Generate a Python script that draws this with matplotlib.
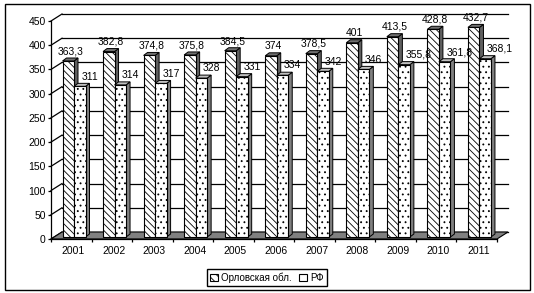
import matplotlib.pyplot as plt
from matplotlib.patches import Polygon, Rectangle, Patch

# Datos
years = ['2001', '2002', '2003', '2004', '2005', '2006', '2007', '2008', '2009', '2010', '2011']
orel = [363.3, 382.8, 374.8, 375.8, 384.5, 374, 378.5, 401, 413.5, 428.8, 432.7]
rf = [311, 314, 317, 328, 331, 334, 342, 346, 355.8, 361.8, 368.1]
orel_labels = ['363,3', '382,8', '374,8', '375,8', '384,5', '374', '378,5', '401', '413,5', '428,8', '432,7']
rf_labels = ['311', '314', '317', '328', '331', '334', '342', '346', '355,8', '361,8', '368,1']
yticks = [0, 50, 100, 150, 200, 250, 300, 350, 400, 450]

plt.rcParams['font.family'] = ['Liberation Sans', 'DejaVu Sans']
plt.rcParams['hatch.linewidth'] = 0.6

W, H = 534, 293
fig = plt.figure(figsize=(W / 100, H / 100), dpi=100)
ax = fig.add_axes([51 / W, 54 / H, 446 / W, 218 / H])
n = len(years)
ax.set_xlim(-0.5, n - 0.5)
ax.set_ylim(0, 450)

# pixeles -> unidades de datos
PX = 446 / n
PY = 218 / 450
wdx, wdy = 11 / PX, 7 / PY      # profundidad de la pared
bdx, bdy = 4 / PX, 3 / PY       # profundidad de las barras
yoff = 2 / PY
w = 11.5 / PX

# pared del fondo y lineas de la pared izquierda
for v in yticks:
    ax.plot([-0.5 + wdx, n - 0.5 + wdx], [v + wdy, v + wdy], color='black', lw=0.9, zorder=1, clip_on=False)
    ax.plot([-0.5, -0.5 + wdx], [v, v + wdy], color='black', lw=0.9, zorder=1, clip_on=False)

# piso gris
ax.add_patch(Polygon([(-0.5, 0), (n - 0.5, 0), (n - 0.5 + wdx, wdy), (-0.5 + wdx, wdy)],
                     closed=True, facecolor='#808080', edgecolor='black', lw=0.8, zorder=1.5, clip_on=False))


def faces(xl, top, side_col, top_col, z):
    xr = xl + w
    ax.add_patch(Polygon([(xr, yoff), (xr, top), (xr + bdx, top + bdy), (xr + bdx, yoff + bdy)],
                         closed=True, facecolor=side_col, edgecolor='black', lw=0.7, zorder=z, clip_on=False))
    ax.add_patch(Polygon([(xl, top), (xr, top), (xr + bdx, top + bdy), (xl + bdx, top + bdy)],
                         closed=True, facecolor=top_col, edgecolor='black', lw=0.7, zorder=z, clip_on=False))


x1 = [i - 0.5 + 11.5 / PX + w / 2 for i in range(n)]
x2 = [x + w for x in x1]

ax.bar(x1, orel, width=w, bottom=yoff, color='white', edgecolor='black', lw=0.8,
       hatch='\\\\\\\\\\', zorder=3, clip_on=False)
ax.bar(x2, rf, width=w, bottom=yoff, color='white', edgecolor='black', lw=0.8,
       hatch='...', zorder=5, clip_on=False)

for i in range(n):
    faces(x1[i] - w / 2, orel[i] + yoff, '#606060', '#707070', 2.5)
    faces(x2[i] - w / 2, rf[i] + yoff, '#808080', '#c0c0c0', 4.5)
    ax.annotate(orel_labels[i], (x1[i] + 2 / PX, orel[i] + yoff), xytext=(0, 7), textcoords='offset points',
                ha='center', va='center', fontsize=7.5, zorder=6)
    ax.annotate(rf_labels[i], (x2[i] + 1.5 / PX, rf[i] + yoff), xytext=(0, 7),
                textcoords='offset points', ha='left', va='center', fontsize=7.5, zorder=6)

# ejes
for s in ['top', 'right']:
    ax.spines[s].set_visible(False)
for s in ['left', 'bottom']:
    ax.spines[s].set_linewidth(0.9)
    ax.spines[s].set_zorder(7)
ax.set_yticks(yticks)
ax.tick_params(axis='y', length=2.2, width=0.9, pad=1.5, labelsize=7.5)
ax.set_xticks([i - 0.5 for i in range(n + 1)])
ax.set_xticklabels([])
ax.set_xticks([i + 2 / PX for i in range(n)], minor=True)
ax.set_xticklabels(years, minor=True)
ax.tick_params(axis='x', which='major', length=2.2, width=0.9)
ax.tick_params(axis='x', which='minor', length=0, pad=5, labelsize=7.5)
ax.patch.set_visible(False)

# leyenda
handles = [Patch(facecolor='white', edgecolor='black', hatch='\\\\\\\\', lw=0.8, label='Орловская обл.'),
           Patch(facecolor='white', edgecolor='black', lw=0.8, label='РФ')]
fig.legend(handles=handles, ncol=2, loc='center', bbox_to_anchor=(267 / W, (293 - 277.5) / H),
           fontsize=7, frameon=True, fancybox=False, edgecolor='black', framealpha=1,
           handlelength=0.8, handleheight=0.8, handletextpad=0.3, columnspacing=0.8,
           borderpad=0.35, borderaxespad=0)

# marco exterior
fig.add_artist(Rectangle((5 / W, 3 / H), 525 / W, 286 / H, transform=fig.transFigure,
                         fill=False, edgecolor='black', lw=1))

plt.savefig('out.png', dpi=100)
plt.close()
